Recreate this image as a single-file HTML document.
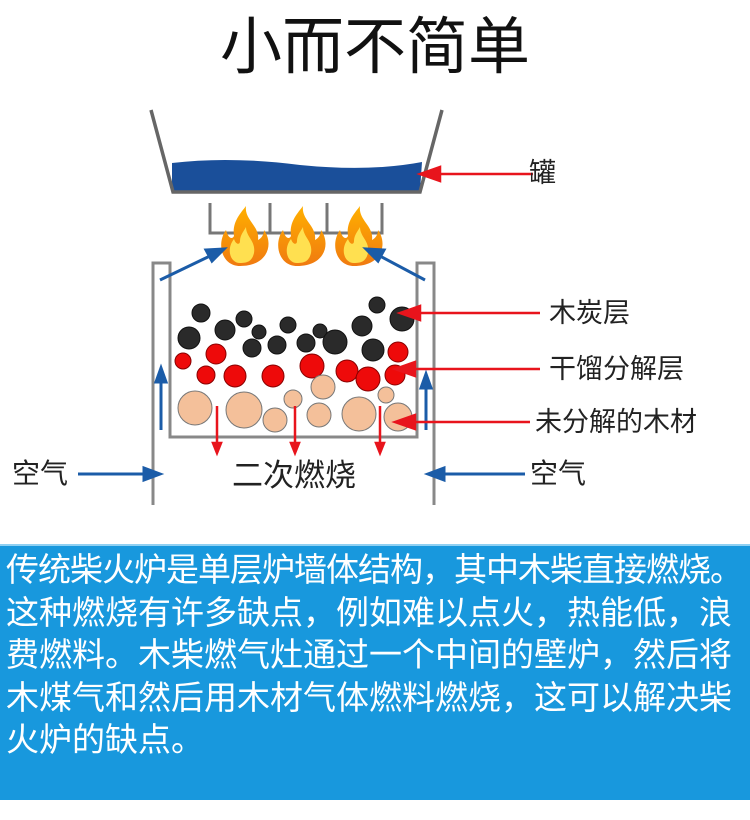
<!DOCTYPE html>
<html><head><meta charset="utf-8"><style>
html,body{margin:0;padding:0;background:#fff;width:750px;height:820px;overflow:hidden;font-family:"Liberation Sans","Noto Sans CJK SC",sans-serif}
svg{position:absolute;left:0;top:0}
.box{position:absolute;left:0;top:544px;width:750px;height:256px;background:#1898dd;border-top:2px solid #8fd0f2;box-sizing:border-box;color:#fff;font-size:33px;line-height:42.5px;padding:3px 0 0 6px;overflow:hidden}
.box div{white-space:nowrap}
</style></head><body>
<svg width="750" height="820" viewBox="0 0 750 820">
<defs>
<linearGradient id="fl" x1="0" y1="0" x2="0" y2="1"><stop offset="0" stop-color="#ffb000"/><stop offset="1" stop-color="#f07a10"/></linearGradient>
</defs>
<text x="375" y="68" text-anchor="middle" font-size="62" font-family="Liberation Sans,Noto Sans CJK SC,sans-serif" fill="#111">小而不简单</text>
<path d="M172,163 Q230,156 300,165 Q370,172 422,162 L420,191 L172,191Z" fill="#1a4f9a"/>
<polyline points="151,110 173,192 420,192 442,110" fill="none" stroke="#666" stroke-width="3.5"/>
<polyline points="210,203 210,233 382,233 382,203" fill="none" stroke="#777" stroke-width="3"/>
<line x1="270" y1="203" x2="270" y2="233" stroke="#777" stroke-width="3"/>
<line x1="327" y1="203" x2="327" y2="233" stroke="#777" stroke-width="3"/>
<g id="f">
<path d="M0,0 c-18,0 -24,-22 -14,-36 c2,8 6,10 8,6 c-2,-14 6,-22 12,-30 c-2,14 14,20 12,34 c4,-2 6,-6 6,-10 c10,14 4,36 -24,36z" fill="url(#fl)"/>
<path d="M0,-3 c-10,0 -14,-14 -6,-24 c2,6 6,6 6,2 c0,-6 4,-10 6,-14 c0,10 10,14 8,26 c-2,8 -6,10 -14,10z" fill="#ffe050"/>
</g>
<use href="#f" x="240" y="266"/>
<use href="#f" x="297" y="266"/>
<use href="#f" x="354" y="266"/>
<g fill="none" stroke="#888" stroke-width="3">
<polyline points="153,505 153,263 170,263 170,437 417,437 417,263 434,263 434,505"/>
</g>
<g stroke="#1b5ca8" stroke-width="3" fill="#1b5ca8">
<line x1="160" y1="280" x2="212" y2="255"/><path d="M224,249 L206,250 L212,261z"/>
<line x1="425" y1="280" x2="378" y2="255"/><path d="M366,249 L378,261 L384,250z"/>
<line x1="161" y1="430" x2="161" y2="380"/><path d="M161,368 L156,382 L166,382z"/>
<line x1="426" y1="430" x2="426" y2="386"/><path d="M426,374 L421,388 L431,388z"/>
<line x1="78" y1="474" x2="145" y2="474"/><path d="M160,474 L144,468 L144,480z"/>
<line x1="525" y1="474" x2="443" y2="474"/><path d="M428,474 L444,468 L444,480z"/>
</g>
<g fill="#2a2a2a" stroke="#111" stroke-width="1">
<circle cx="201" cy="313" r="9"/><circle cx="189" cy="338" r="11"/><circle cx="225" cy="330" r="10"/><circle cx="244" cy="319" r="8"/><circle cx="259" cy="332" r="7"/><circle cx="252" cy="348" r="9"/><circle cx="277" cy="345" r="9"/><circle cx="288" cy="325" r="8"/><circle cx="306" cy="343" r="9"/><circle cx="320" cy="331" r="7"/><circle cx="335" cy="342" r="12"/><circle cx="362" cy="326" r="10"/><circle cx="377" cy="305" r="8"/><circle cx="402" cy="319" r="12"/><circle cx="373" cy="350" r="11"/>
</g>
<g fill="#ee0a0a" stroke="#800" stroke-width="1">
<circle cx="183" cy="361" r="8"/><circle cx="216" cy="354" r="10"/><circle cx="206" cy="375" r="9"/><circle cx="235" cy="376" r="11"/><circle cx="273" cy="376" r="11"/><circle cx="312" cy="366" r="12"/><circle cx="347" cy="371" r="11"/><circle cx="368" cy="379" r="12"/><circle cx="398" cy="352" r="10"/><circle cx="395" cy="375" r="10"/>
</g>
<g fill="#f4c09a" stroke="#777" stroke-width="1">
<circle cx="195" cy="408" r="17"/><circle cx="244" cy="410" r="18"/><circle cx="275" cy="420" r="12"/><circle cx="293" cy="399" r="9"/><circle cx="323" cy="387" r="12"/><circle cx="319" cy="415" r="12"/><circle cx="359" cy="414" r="17"/><circle cx="386" cy="395" r="8"/><circle cx="398" cy="417" r="14"/>
</g>
<g stroke="#e8141c" stroke-width="2.5" fill="#e8141c">
<line x1="533" y1="174" x2="436" y2="174"/><path d="M420,174 L440,167 L440,181z"/>
<line x1="540" y1="313" x2="416" y2="313"/><path d="M400,313 L420,306 L420,320z"/>
<line x1="540" y1="369" x2="411" y2="369"/><path d="M395,369 L415,362 L415,376z"/>
<line x1="530" y1="422" x2="411" y2="422"/><path d="M395,422 L415,415 L415,429z"/>
<line x1="217" y1="406" x2="217" y2="444"/><path d="M217,453 L213,443 L221,443z"/>
<line x1="295" y1="406" x2="295" y2="444"/><path d="M295,453 L291,443 L299,443z"/>
<line x1="380" y1="406" x2="380" y2="444"/><path d="M380,453 L376,443 L384,443z"/>
</g>
<g font-family="Liberation Sans,Noto Sans CJK SC,sans-serif" fill="#222">
<text x="529" y="182" font-size="27">罐</text>
<text x="549" y="322" font-size="27">木炭层</text>
<text x="549" y="378" font-size="27">干馏分解层</text>
<text x="535" y="431" font-size="27">未分解的木材</text>
<text x="12" y="483" font-size="28">空气</text>
<text x="530" y="483" font-size="28">空气</text>
<text x="232" y="486" font-size="31">二次燃烧</text>
</g>
</svg>
<div class="box">
<div style="letter-spacing:-1px">传统柴火炉是单层炉墙体结构，其中木柴直接燃烧。</div>
<div>这种燃烧有许多缺点，例如难以点火，热能低，浪</div>
<div>费燃料。木柴燃气灶通过一个中间的壁炉，然后将</div>
<div>木煤气和然后用木材气体燃料燃烧，这可以解决柴</div>
<div>火炉的缺点。</div>
</div>
</body></html>
